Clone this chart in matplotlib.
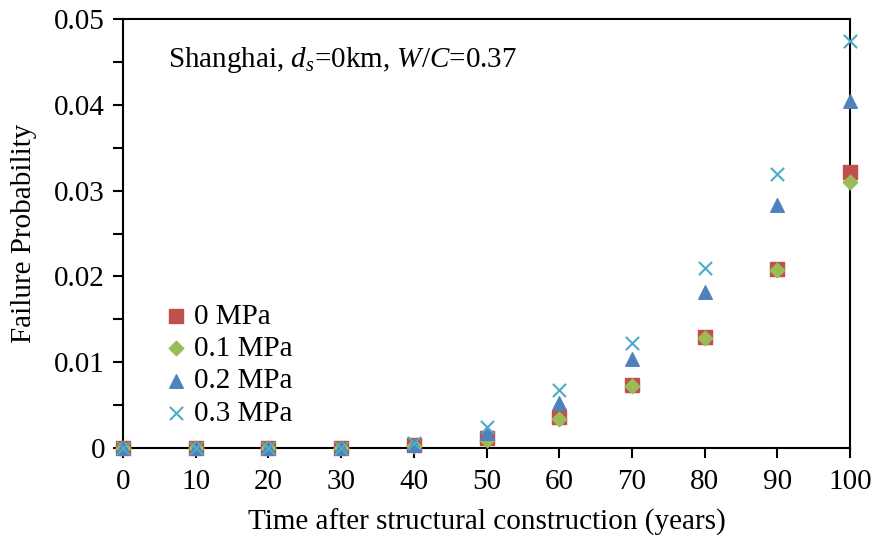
import matplotlib
matplotlib.use('Agg')
import matplotlib.pyplot as plt
from matplotlib.ticker import MultipleLocator

# Data
years = [0, 10, 20, 30, 40, 50, 60, 70, 80, 90, 100]
p_0mpa = [0, 0, 0, 0, 0.0003, 0.0012, 0.0036, 0.0073, 0.0129, 0.0209, 0.0322]
p_01mpa = [0, 0, 0, 0, 0.0002, 0.0009, 0.0034, 0.0072, 0.0128, 0.0208, 0.0310]
p_02mpa = [0, 0, 0, 0, 0.0004, 0.0017, 0.0052, 0.0104, 0.0182, 0.0283, 0.0404]
p_03mpa = [0, 0, 0, 0, 0.0006, 0.0025, 0.0068, 0.0122, 0.0210, 0.0319, 0.0474]
series_labels = ['0 MPa', '0.1 MPa', '0.2 MPa', '0.3 MPa']

plt.rcParams['font.family'] = ['Liberation Serif', 'DejaVu Serif']
plt.rcParams['mathtext.fontset'] = 'custom'
plt.rcParams['mathtext.rm'] = 'Liberation Serif'
plt.rcParams['mathtext.it'] = 'Liberation Serif:italic'

fs = 21

fig = plt.figure(figsize=(8.75, 5.35), dpi=100)
ax = fig.add_axes([0.1406, 0.1626, 0.8308, 0.8019])

ax.scatter(years, p_0mpa, marker='s', s=90, color='#C0504D', label=series_labels[0], zorder=3)
ax.scatter(years, p_01mpa, marker='D', s=55, color='#9BBB59', label=series_labels[1], zorder=4)
ax.scatter(years, p_02mpa, marker='^', s=95, color='#4F81BD', label=series_labels[2], zorder=5)
ax.scatter(years, p_03mpa, marker='x', s=90, color='#4BACC6', linewidths=1.5,
           label=series_labels[3], zorder=6)

ax.set_xlim(0, 100)
ax.set_ylim(0, 0.05)
ax.xaxis.set_major_locator(MultipleLocator(10))
ax.yaxis.set_minor_locator(MultipleLocator(0.005))
ax.set_yticks([0, 0.01, 0.02, 0.03, 0.04, 0.05])
ax.set_yticklabels(['0', '0.01', '0.02', '0.03', '0.04', '0.05'])

for sp in ax.spines.values():
    sp.set_linewidth(1.5)
ax.tick_params(axis='both', which='major', direction='out', length=7, width=1.5,
               labelsize=fs)
ax.tick_params(axis='x', which='major', pad=8)
ax.tick_params(axis='y', which='major', pad=6)
ax.tick_params(axis='y', which='minor', direction='out', length=7, width=1.5)

ax.set_xlabel('Time after structural construction (years)', fontsize=fs, labelpad=10)
ax.set_ylabel('Failure Probability', fontsize=fs, labelpad=12)

ax.text(0.062, 0.905, r'Shanghai, $d_s$=0km, $W$/$C$=0.37', transform=ax.transAxes,
        fontsize=fs, va='center', ha='left')

ax.legend(loc='lower left', bbox_to_anchor=(0.055, 0.05), frameon=False, fontsize=fs,
          handlelength=0.9, handletextpad=0.15, labelspacing=0.2, borderaxespad=0,
          borderpad=0)

for coll in ax.collections:
    coll.set_clip_on(False)

fig.savefig('out.png', dpi=100)
